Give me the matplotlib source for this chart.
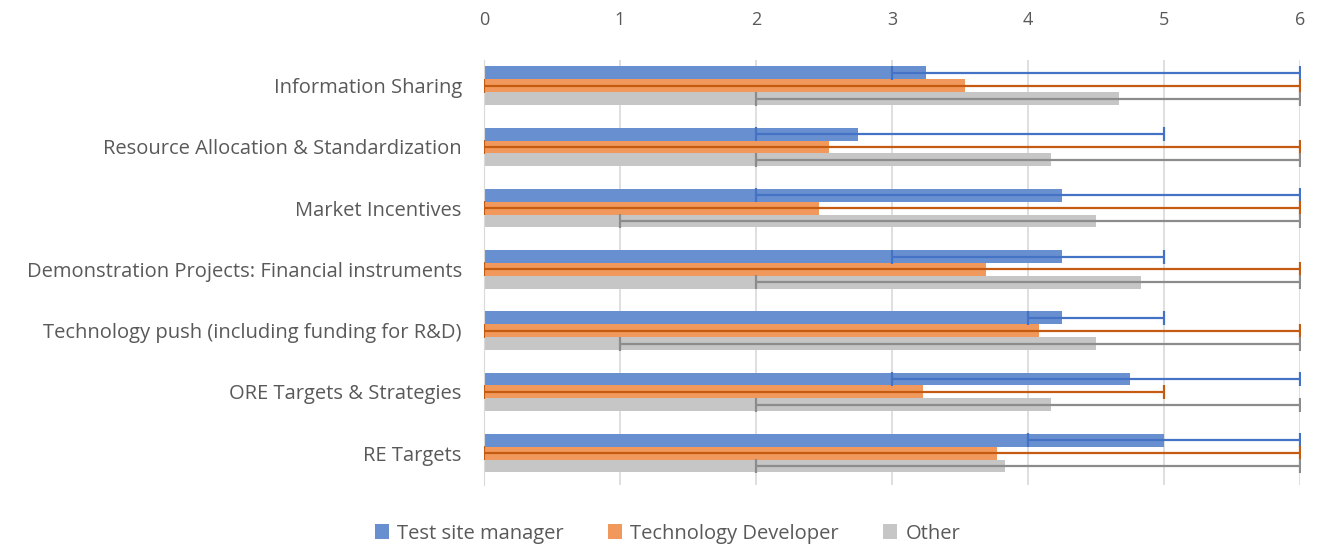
import numpy as np
import matplotlib.pyplot as plt

plt.rcParams['font.family'] = ['Open Sans', 'DejaVu Sans']

categories = ['Information Sharing', 'Resource Allocation & Standardization',
              'Market Incentives', 'Demonstration Projects: Financial instruments',
              'Technology push (including funding for R&D)',
              'ORE Targets & Strategies', 'RE Targets']
series = ['Test site manager', 'Technology Developer', 'Other']

# mean scores
tsm = [3.25, 2.75, 4.25, 4.25, 4.25, 4.75, 5.0]
dev = [3.54, 2.54, 2.46, 3.69, 4.08, 3.23, 3.77]
oth = [4.67, 4.17, 4.5, 4.83, 4.5, 4.17, 3.83]

# min / max of the answers
tsm_min = [3, 2, 2, 3, 4, 3, 4]
tsm_max = [6, 5, 6, 5, 5, 6, 6]
dev_min = [0, 0, 0, 0, 0, 0, 0]
dev_max = [6, 6, 6, 6, 6, 5, 6]
oth_min = [2, 2, 1, 2, 1, 2, 2]
oth_max = [6, 6, 6, 6, 6, 6, 6]

bar_colors = ['#6890D0', '#F1995C', '#C6C6C6']
err_colors = ['#4472C4', '#C55A11', '#8C8C8C']

fig = plt.figure(figsize=(13.17, 5.48), dpi=100)
ax = fig.add_axes([0.3675, 0.115, 0.6195, 0.7755])

y = np.arange(len(categories))
h = 0.21
data = [(tsm, tsm_min, tsm_max), (dev, dev_min, dev_max), (oth, oth_min, oth_max)]
for i, (vals, lo, hi) in enumerate(data):
    vals = np.array(vals)
    pos = y + (i - 1) * h
    ax.barh(pos, vals, height=h, color=bar_colors[i], label=series[i], zorder=2)
    xerr = [vals - np.array(lo), np.array(hi) - vals]
    ax.errorbar(vals, pos, xerr=xerr, fmt='none', ecolor=err_colors[i],
                elinewidth=1.6, capsize=5, capthick=1.6, zorder=3)

ax.set_xlim(0, 6)
ax.set_ylim(6.52, -0.42)
ax.set_yticks(y)
ax.set_yticklabels(categories)
ax.xaxis.tick_top()
ax.set_xticks(range(7))
ax.tick_params(axis='x', length=0, pad=22, labelsize=13, colors='#595959')
ax.tick_params(axis='y', length=0, pad=16, labelsize=14.5, colors='#595959')
ax.grid(axis='x', color='#D9D9D9', linewidth=1.2, zorder=0)
ax.set_axisbelow(True)
for s in ['top', 'right', 'bottom']:
    ax.spines[s].set_visible(False)
ax.spines['left'].set_color('#D9D9D9')

fig.legend(loc='lower center', bbox_to_anchor=(0.507, -0.025), ncol=3, frameon=False,
           fontsize=14.5, labelcolor='#595959', handlelength=0.7, handleheight=0.7,
           columnspacing=2.2, handletextpad=0.4)

fig.savefig('out.png', dpi=100)
